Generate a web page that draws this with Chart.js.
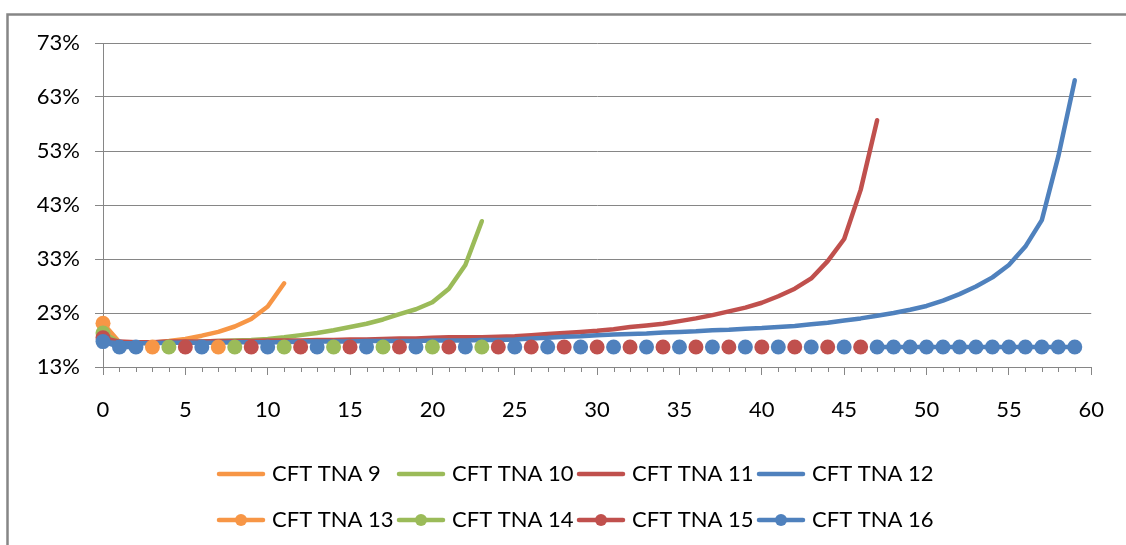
<!DOCTYPE html>
<html>
<head>
<meta charset="utf-8">
<title>CFT TNA</title>
<script src="https://cdn.jsdelivr.net/npm/chart.js@4.4.1/dist/chart.umd.min.js"></script>
<style>
  html, body { margin: 0; padding: 0; background: #ffffff; }
  #wrap { position: relative; width: 1126px; height: 545px; }
</style>
</head>
<body>
<div id="wrap"><canvas id="chart"></canvas></div>
<script>
// ---- data ---------------------------------------------------------------
const seriesNames = [
  'CFT TNA 9', 'CFT TNA 10', 'CFT TNA 11', 'CFT TNA 12',
  'CFT TNA 13', 'CFT TNA 14', 'CFT TNA 15', 'CFT TNA 16'
];

// axis ticks (percent)
const yTickValues = [13, 23, 33, 43, 53, 63, 73];
const xTickValues = [0, 5, 10, 15, 20, 25, 30, 35, 40, 45, 50, 55, 60];

// line series: one value per period, starting at period 0
const tna9 = [21.1, 17.6, 17.4, 17.5, 17.8, 18.2, 18.8, 19.5, 20.5, 21.9, 24.2, 28.5];

const tna10 = [19.3, 17.6, 17.5, 17.5, 17.5, 17.6, 17.7, 17.8, 17.9, 18.0,
               18.2, 18.5, 18.9, 19.3, 19.8, 20.4, 21.0, 21.8, 22.8, 23.7,
               25.0, 27.5, 31.9, 40.0];

const tna11 = [18.4, 17.7, 17.6, 17.6, 17.7, 17.7, 17.7, 17.8, 17.8, 17.8,
               17.9, 17.9, 17.9, 18.0, 18.0, 18.1, 18.1, 18.2, 18.3, 18.3,
               18.4, 18.5, 18.5, 18.5, 18.6, 18.7, 18.9, 19.1, 19.3, 19.5,
               19.7, 20.0, 20.4, 20.7, 21.0, 21.5, 22.0, 22.6, 23.3, 24.0,
               24.9, 26.1, 27.5, 29.4, 32.6, 36.7, 45.8, 58.7];

const tna12 = [17.7, 17.4, 17.4, 17.4, 17.5, 17.5, 17.5, 17.5, 17.6, 17.6,
               17.6, 17.6, 17.7, 17.7, 17.7, 17.7, 17.8, 17.8, 17.8, 17.8,
               17.9, 17.9, 17.9, 18.0, 18.0, 18.1, 18.3, 18.4, 18.6, 18.7,
               18.9, 19.0, 19.1, 19.2, 19.4, 19.5, 19.6, 19.8, 19.9, 20.1,
               20.2, 20.4, 20.6, 20.9, 21.2, 21.6, 22.0, 22.5, 23.0, 23.6,
               24.3, 25.3, 26.5, 27.9, 29.6, 31.9, 35.3, 40.2, 52.0, 66.1];

// marker series: periods and values
const tna13X = [0, 3, 7];
const tna13Y = [21.1, 16.7, 16.7];

const tna14X = [0, 4, 8, 11, 14, 17, 20, 23];
const tna14Y = [19.3, 16.7, 16.7, 16.7, 16.7, 16.7, 16.7, 16.7];

const tna15X = [0, 5, 9, 12, 15, 18, 21, 24, 26, 28, 30, 32, 34, 36, 38, 40, 42, 44, 46];
const tna15Y = [18.4, 16.7, 16.7, 16.7, 16.7, 16.7, 16.7, 16.7, 16.7, 16.7,
                16.7, 16.7, 16.7, 16.7, 16.7, 16.7, 16.7, 16.7, 16.7];

const tna16X = [0, 1, 2, 6, 10, 13, 16, 19, 22, 25, 27, 29, 31, 33, 35, 37, 39, 41, 43, 45,
                47, 48, 49, 50, 51, 52, 53, 54, 55, 56, 57, 58, 59];
const tna16Y = [17.7, 16.7, 16.7, 16.7, 16.7, 16.7, 16.7, 16.7, 16.7, 16.7,
                16.7, 16.7, 16.7, 16.7, 16.7, 16.7, 16.7, 16.7, 16.7, 16.7,
                16.7, 16.7, 16.7, 16.7, 16.7, 16.7, 16.7, 16.7, 16.7, 16.7,
                16.7, 16.7, 16.7];

// ---- styling ------------------------------------------------------------
const colors = ['#F79646', '#9BBB59', '#C0504D', '#4F81BD'];
const axisGray = '#868686';
const textColor = '#000000';
const fontFamily = 'Lato, "Open Sans", sans-serif';
const fontSize = 22;

const toPoints = values => values.map((v, i) => ({ x: i, y: v }));
const pairPoints = (xs, ys) => xs.map((x, i) => ({ x: x, y: ys[i] }));

const lineData = [tna9, tna10, tna11, tna12].map(toPoints);
const markerData = [
  pairPoints(tna13X, tna13Y),
  pairPoints(tna14X, tna14Y),
  pairPoints(tna15X, tna15Y),
  pairPoints(tna16X, tna16Y)
];

const datasets = [];
lineData.forEach((pts, i) => {
  datasets.push({
    label: seriesNames[i],
    data: pts,
    borderColor: colors[i],
    backgroundColor: colors[i],
    borderWidth: 4.5,
    borderCapStyle: 'round',
    borderJoinStyle: 'round',
    pointRadius: 0,
    pointHoverRadius: 0,
    tension: 0,
    clip: false
  });
});
markerData.forEach((pts, i) => {
  datasets.push({
    label: seriesNames[4 + i],
    data: pts,
    borderColor: colors[i],
    backgroundColor: colors[i],
    borderWidth: 4.5,
    pointRadius: 7.5,
    pointHoverRadius: 7.5,
    pointBorderWidth: 0,
    pointBackgroundColor: colors[i],
    tension: 0,
    clip: false,
    // connect only neighbouring periods
    segment: {
      borderColor: ctx => (ctx.p1.parsed.x - ctx.p0.parsed.x > 1 ? 'rgba(0,0,0,0)' : undefined)
    }
  });
});
// later series are painted over earlier ones
datasets.forEach((ds, i) => { ds.order = datasets.length - i; });

// outer chart frame
const framePlugin = {
  id: 'frame',
  beforeDraw(chart) {
    const ctx = chart.ctx;
    ctx.save();
    ctx.fillStyle = '#ffffff';
    ctx.fillRect(0, 0, chart.width, chart.height);
    ctx.strokeStyle = axisGray;
    ctx.lineWidth = 2.5;
    ctx.beginPath();
    ctx.moveTo(7.5, chart.height);
    ctx.lineTo(7.5, 14.5);
    ctx.lineTo(chart.width, 14.5);
    ctx.stroke();
    ctx.restore();
  }
};

// short minor tick marks for every period on the x axis
const minorTicksPlugin = {
  id: 'minorTicks',
  afterDraw(chart) {
    const sx = chart.scales.x;
    const ctx = chart.ctx;
    const y0 = chart.chartArea.bottom;
    ctx.save();
    ctx.strokeStyle = axisGray;
    ctx.lineWidth = 1;
    ctx.beginPath();
    for (let v = sx.min; v <= sx.max; v++) {
      if (xTickValues.includes(v)) continue;
      const px = Math.round(sx.getPixelForValue(v)) + 0.5;
      ctx.moveTo(px, y0);
      ctx.lineTo(px, y0 + 5);
    }
    ctx.stroke();
    ctx.restore();
  }
};

// legend laid out in fixed columns, two rows
const gridLegendPlugin = {
  id: 'gridLegend',
  afterDraw(chart) {
    const ctx = chart.ctx;
    const left = 217, colWidth = 180, rowTop = 474, rowGap = 46;
    const sampleLen = 48, textGap = 7;
    ctx.save();
    ctx.font = fontSize + 'px ' + fontFamily;
    ctx.textBaseline = 'middle';
    ctx.textAlign = 'left';
    chart.data.datasets.forEach((ds, i) => {
      const col = i % 4, row = Math.floor(i / 4);
      const x = left + col * colWidth;
      const y = rowTop + row * rowGap;
      ctx.strokeStyle = ds.borderColor;
      ctx.lineWidth = 4.5;
      ctx.lineCap = 'round';
      ctx.beginPath();
      ctx.moveTo(x + 2, y);
      ctx.lineTo(x + sampleLen - 2, y);
      ctx.stroke();
      if (ds.pointRadius > 0) {
        ctx.fillStyle = ds.backgroundColor;
        ctx.beginPath();
        ctx.arc(x + sampleLen / 2, y, 6, 0, Math.PI * 2);
        ctx.fill();
      }
      ctx.fillStyle = textColor;
      ctx.fillText(ds.label, x + sampleLen + textGap, y);
    });
    ctx.restore();
  }
};

function draw() {
  new Chart(document.getElementById('chart'), {
    type: 'line',
    data: { datasets: datasets },
    options: {
      responsive: true,
      maintainAspectRatio: false,
      animation: false,
      events: [],
      layout: { padding: { left: 0, right: 29, top: 43, bottom: 0 } },
      plugins: {
        legend: { display: false },
        tooltip: { enabled: false }
      },
      scales: {
        x: {
          type: 'linear',
          min: xTickValues[0],
          max: xTickValues[xTickValues.length - 1],
          afterFit(scale) { scale.height = 178; },
          afterBuildTicks(scale) { scale.ticks = xTickValues.map(v => ({ value: v })); },
          grid: {
            drawOnChartArea: false,
            drawTicks: true,
            tickLength: 8,
            color: axisGray,
            lineWidth: 1
          },
          border: { display: true, color: axisGray, width: 1 },
          ticks: {
            color: textColor,
            font: { family: fontFamily, size: fontSize },
            padding: 22,
            maxRotation: 0,
            autoSkip: false
          }
        },
        y: {
          type: 'linear',
          min: yTickValues[0],
          max: yTickValues[yTickValues.length - 1],
          afterFit(scale) { scale.width = 103; },
          afterBuildTicks(scale) { scale.ticks = yTickValues.map(v => ({ value: v })); },
          grid: {
            drawOnChartArea: true,
            drawTicks: true,
            tickLength: 8,
            color: axisGray,
            lineWidth: 1
          },
          border: { display: true, color: axisGray, width: 1 },
          ticks: {
            color: textColor,
            font: { family: fontFamily, size: fontSize },
            padding: 15,
            callback: v => v + '%'
          }
        }
      }
    },
    plugins: [framePlugin, minorTicksPlugin, gridLegendPlugin]
  });
}

if (document.fonts && document.fonts.load) {
  document.fonts.load(fontSize + 'px Lato').then(draw, draw);
} else {
  draw();
}
</script>
</body>
</html>
